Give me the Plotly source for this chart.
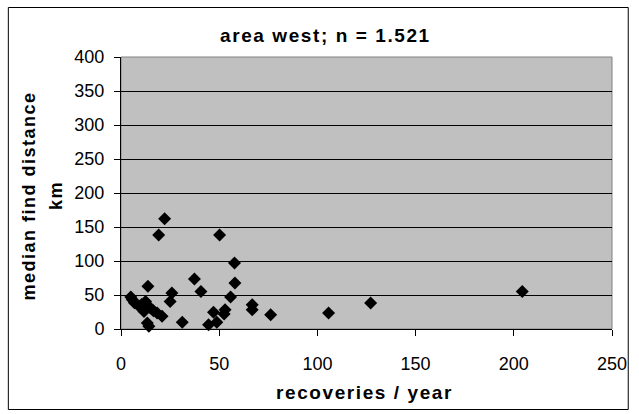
import plotly.graph_objects as go

recoveries = [22.2, 19.2, 50.2, 57.8, 37.4, 13.7, 58.0, 25.9, 40.7, 25.0, 5.8, 6.8,
              9.2, 12.5, 15.0, 18.4, 20.9, 11.7, 13.4, 14.2, 31.2, 55.8, 53.0, 52.5,
              47.1, 48.8, 44.6, 66.8, 66.8, 76.2, 105.7, 127.1, 204.3, 5.0, 16.5, 10.5]
distance = [162.3, 138.2, 138.2, 97.0, 73.5, 62.7, 67.6, 52.9, 55.3, 40.6, 43.1, 38.5,
            33.3, 40.6, 30.8, 23.5, 18.6, 25.9, 8.8, 3.9, 9.8, 47.0, 28.4, 22.0,
            24.5, 9.8, 6.3, 35.7, 28.4, 21.0, 23.5, 38.2, 55.3, 47.0, 27.0, 36.0]

x_ticks = [0, 50, 100, 150, 200, 250]
y_ticks = [0, 50, 100, 150, 200, 250, 300, 350, 400]

title_text = "area west; n = 1.521"
x_title = "recoveries / year"
y_title_1 = "median find distance"
y_title_2 = "km"

FONT = "Liberation Sans, Arial, sans-serif"


def spaced(s, sep="\u200a"):
    return sep.join(list(s))


fig = go.Figure()
fig.add_trace(go.Scatter(
    x=recoveries, y=distance, mode="markers",
    marker=dict(symbol="diamond", size=10, color="black", line=dict(width=0)),
    showlegend=False, cliponaxis=False,
))

W, H = 639, 414
L, R, T, B = 121, 19, 57, 85
pw, ph = W - L - R, H - T - B


def px(X):
    return (X - L) / pw


def py(Y):
    return (H - B - Y) / ph


fig.update_layout(
    width=W, height=H,
    margin=dict(l=L, r=R, t=T, b=B),
    paper_bgcolor="white", plot_bgcolor="#c0c0c0",
    font=dict(family=FONT, size=18, color="black"),
    xaxis=dict(range=[0, 250], tickvals=x_ticks, ticks="outside", ticklen=6,
               tickcolor="black", showline=True, linecolor="black", linewidth=1,
               showgrid=False, zeroline=False, ticklabelstandoff=12,
               tickfont=dict(size=18)),
    yaxis=dict(range=[0, 400], tickvals=y_ticks, ticks="outside", ticklen=6,
               tickcolor="black", showline=True, linecolor="black", linewidth=1,
               showgrid=True, gridcolor="black", gridwidth=1, zeroline=False,
               ticklabelstandoff=6, tickfont=dict(size=18)),
    annotations=[
        dict(text="<b>" + spaced(title_text) + "</b>", xref="paper", yref="paper",
             x=px(328), y=py(35), xanchor="center", yanchor="middle",
             showarrow=False, font=dict(size=19)),
        dict(text="<b>" + spaced(x_title) + "</b>", xref="paper", yref="paper",
             x=px(368), y=py(392), xanchor="center", yanchor="middle",
             showarrow=False, font=dict(size=19)),
        dict(text="<b>" + spaced(y_title_1) + "</b>", xref="paper", yref="paper",
             x=px(27), y=py(197), xanchor="center", yanchor="middle",
             textangle=-90, showarrow=False, font=dict(size=18)),
        dict(text="<b>" + spaced(y_title_2) + "</b>", xref="paper", yref="paper",
             x=px(55), y=py(196), xanchor="center", yanchor="middle",
             textangle=-90, showarrow=False, font=dict(size=18)),
    ],
    shapes=[
        dict(type="rect", xref="paper", yref="paper", x0=0, x1=1, y0=0, y1=1,
             line=dict(color="#808080", width=1), layer="below"),
        dict(type="rect", xref="paper", yref="paper",
             x0=px(6.5), x1=px(636.5), y0=py(409.5), y1=py(7.5),
             line=dict(color="black", width=1), fillcolor="rgba(0,0,0,0)"),
    ],
)

fig.write_html("out.html", config={"displayModeBar": False},
               post_script="document.body.style.margin='0';")
